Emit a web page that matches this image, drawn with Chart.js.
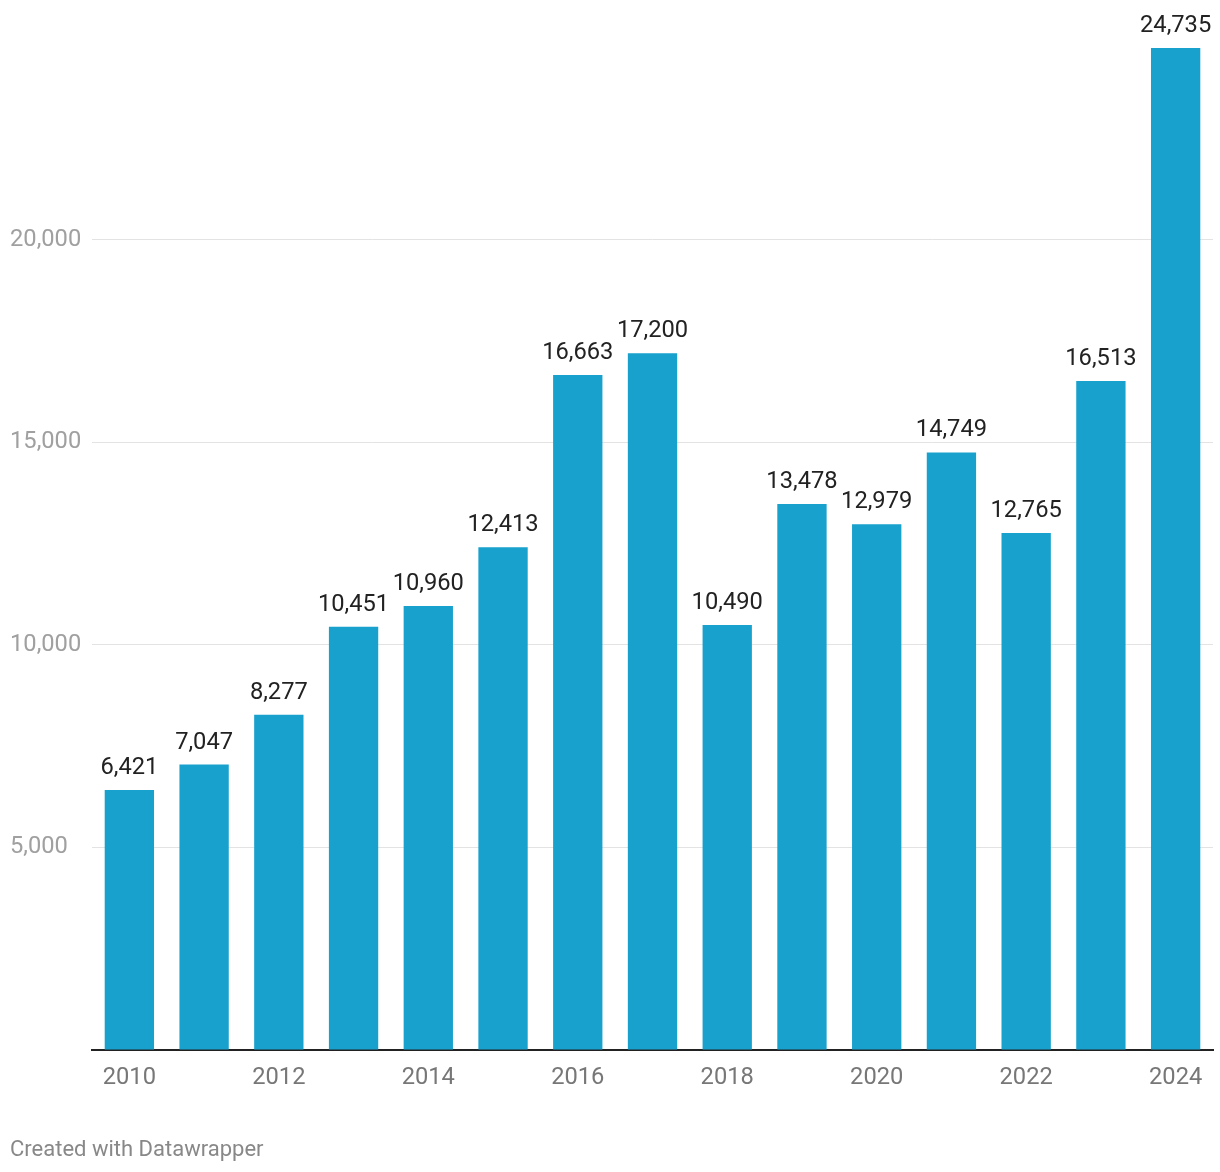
<!DOCTYPE html>
<html lang="en">
<head>
<meta charset="UTF-8">
<title>Chart</title>
<script src="https://cdn.jsdelivr.net/npm/chart.js"></script>
<style>
  body { margin: 0; background: #fff; }
  #wrap { width: 1220px; height: 1172px; }
</style>
</head>
<body>
<div id="wrap"><canvas id="myChart"></canvas></div>
<script>
const years = ['2010','2011','2012','2013','2014','2015','2016','2017','2018','2019','2020','2021','2022','2023','2024'];
const values = [6421, 7047, 8277, 10451, 10960, 12413, 16663, 17200, 10490, 13478, 12979, 14749, 12765, 16513, 24735];
const yTicks = [0, 5000, 10000, 15000, 20000];

const fontFam = 'Roboto, "Noto Sans", sans-serif';

// value labels over the bars
const barLabels = {
  id: 'barLabels',
  afterDatasetsDraw(chart) {
    const ctx = chart.ctx;
    const meta = chart.getDatasetMeta(0);
    ctx.save();
    ctx.font = '23.7px ' + fontFam;
    ctx.fillStyle = '#222';
    ctx.textAlign = 'center';
    ctx.textBaseline = 'middle';
    meta.data.forEach((bar, i) => {
      ctx.fillText(values[i].toLocaleString('en-US'), bar.x, bar.y - 22);
    });
    ctx.restore();
  }
};

const ctx = document.getElementById('myChart');
new Chart(ctx, {
  type: 'bar',
  data: {
    labels: years,
    datasets: [{
      data: values,
      backgroundColor: '#18a1cd',
      barPercentage: 0.66,
      categoryPercentage: 1
    }]
  },
  options: {
    responsive: true,
    maintainAspectRatio: false,
    animation: false,
    layout: { padding: { left: 10, right: 7, top: 8, bottom: 0 } },
    scales: {
      x: {
        afterFit(s) { s.height = 87.5; },
        grid: { display: false, drawTicks: false },
        border: { display: true, color: '#222', width: 2 },
        ticks: {
          autoSkip: false,
          maxRotation: 0,
          padding: 14,
          color: '#777',
          font: { family: fontFam, size: 23.7 },
          callback: (v, i) => (i % 2 === 0 ? years[i] : '')
        }
      },
      y: {
        min: 0,
        max: 25720,
        afterFit(s) { s.width = 82; s.paddingTop = 0; },
        afterBuildTicks(s) { s.ticks = yTicks.map(v => ({ value: v })); },
        border: { display: false },
        grid: {
          drawTicks: false,
          color: (c) => (c.tick && c.tick.value === 0 ? 'rgba(0,0,0,0)' : '#e3e3e3'),
          lineWidth: 1
        },
        ticks: {
          crossAlign: 'far',
          padding: 0,
          color: '#a0a0a0',
          font: { family: fontFam, size: 23.7, lineHeight: 0.5 },
          callback: (v) => (v === 0 ? '' : v.toLocaleString('en-US'))
        }
      }
    },
    plugins: {
      legend: { display: false },
      tooltip: { enabled: false },
      title: {
        display: true,
        position: 'bottom',
        align: 'start',
        text: 'Created with Datawrapper',
        color: '#888',
        font: { family: fontFam, size: 22, weight: 'normal', lineHeight: 1.2 },
        padding: { top: 0, bottom: 8 }
      }
    }
  },
  plugins: [barLabels]
});
</script>
</body>
</html>
